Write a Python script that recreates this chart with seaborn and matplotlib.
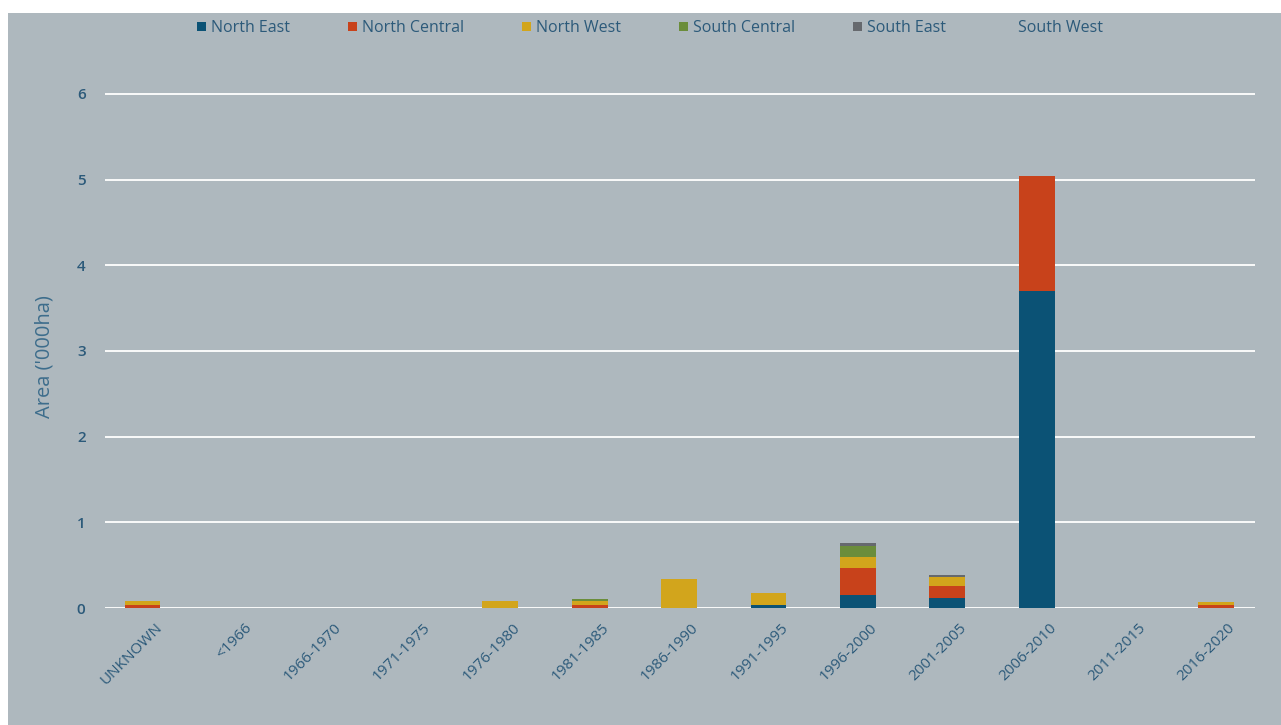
import matplotlib
matplotlib.use("Agg")
import matplotlib.pyplot as plt
from matplotlib.patches import Patch, Rectangle
from matplotlib.transforms import ScaledTranslation
import numpy as np
import pandas as pd
import seaborn as sns

periods = ["UNKNOWN", "<1966", "1966-1970", "1971-1975", "1976-1980", "1981-1985",
           "1986-1990", "1991-1995", "1996-2000", "2001-2005", "2006-2010",
           "2011-2015", "2016-2020"]
north_east    = [0.00, 0, 0, 0.000, 0.00, 0.00, 0.00, 0.03, 0.15, 0.12, 3.70, 0, 0.00]
north_central = [0.03, 0, 0, 0.000, 0.00, 0.04, 0.00, 0.00, 0.32, 0.14, 1.34, 0, 0.03]
north_west    = [0.05, 0, 0, 0.005, 0.08, 0.04, 0.34, 0.14, 0.13, 0.10, 0.00, 0, 0.04]
south_central = [0.00, 0, 0, 0.000, 0.00, 0.03, 0.00, 0.00, 0.12, 0.00, 0.00, 0, 0.00]
south_east    = [0.00, 0, 0, 0.000, 0.00, 0.00, 0.00, 0.00, 0.04, 0.03, 0.00, 0, 0.00]
south_west    = [0.00, 0, 0, 0.000, 0.00, 0.00, 0.00, 0.00, 0.00, 0.00, 0.00, 0, 0.00]

series_names = ["North East", "North Central", "North West", "South Central", "South East", "South West"]
series_vals = [north_east, north_central, north_west, south_central, south_east, south_west]
colors = ["#0b5275", "#c8421b", "#d2a51c", "#6b8d3b", "#66696e", "none"]

BG = "#aeb8be"
TXT = "#2c5a7a"

sns.set_theme(style="white")
plt.rcParams["font.family"] = ["Open Sans", "DejaVu Sans"]

fig = plt.figure(figsize=(12.81, 7.25), dpi=100, facecolor="white")
fig.patches.append(Rectangle((8 / 1281, 0), 1, 1 - 13 / 725, transform=fig.transFigure,
                             facecolor=BG, edgecolor="none", zorder=-10))
ax = fig.add_axes([105 / 1281, 1 - 608 / 725, (1255 - 105) / 1281, (608 - 89.7) / 725])
ax.set_facecolor(BG)

df = pd.DataFrame({name: vals for name, vals in zip(series_names, series_vals)})
df["period"] = periods
cum = df[series_names].cumsum(axis=1)

# draw cumulative totals from top to bottom so that each layer overlays the previous
for name, col in reversed(list(zip(series_names, colors))):
    if col == "none":
        continue
    sns.barplot(x=periods, y=cum[name].values, order=periods, color=col, width=0.4,
                errorbar=None, saturation=1, linewidth=0, ax=ax, zorder=3)

ax.set_ylim(0, 6.05)
ax.set_xlim(-0.42, 12.44)
ax.set_yticks(range(0, 7))
ax.yaxis.grid(True, color="white", linewidth=1.3, zorder=0)
ax.xaxis.grid(False)
ax.set_axisbelow(True)
for s in ax.spines.values():
    s.set_visible(False)
ax.tick_params(axis="both", length=0, colors=TXT)
ax.tick_params(axis="y", pad=14, labelsize=11)
ax.tick_params(axis="x", pad=9, labelsize=11)
for lab in ax.get_yticklabels():
    lab.set_fontweight("semibold")
shift = ScaledTranslation(12 / 100, 0, fig.dpi_scale_trans)
for lab in ax.get_xticklabels():
    lab.set_rotation(45)
    lab.set_ha("right")
    lab.set_rotation_mode("anchor")
    lab.set_transform(lab.get_transform() + shift)
ax.set_xlabel("")
ax.set_ylabel("Area ('000ha)", color="#3d6d8c", fontsize=14.5)
ax.yaxis.set_label_coords(-50 / 1150, (608 - 357) / (608 - 89.7))

handles = [Patch(facecolor=c, edgecolor="none") for c in colors]
leg = fig.legend(handles, series_names, loc="center", bbox_to_anchor=(650 / 1281, 1 - 28 / 725),
                 ncol=6, frameon=False, fontsize=11.5, handlelength=0.55, handleheight=0.55,
                 handletextpad=0.35, columnspacing=3.6)
for t in leg.get_texts():
    t.set_color(TXT)

fig.savefig("out.png", dpi=100, facecolor=fig.get_facecolor())
